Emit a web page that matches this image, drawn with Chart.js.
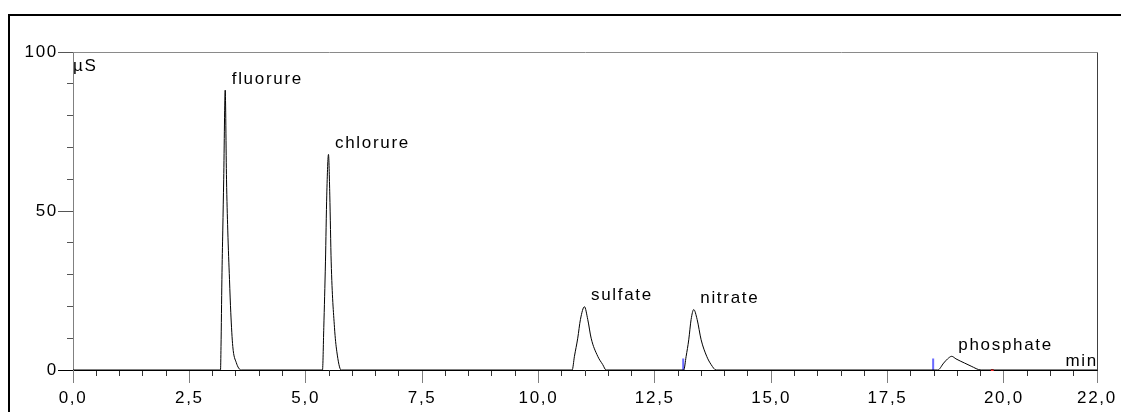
<!DOCTYPE html>
<html lang="fr">
<head>
<meta charset="utf-8">
<title>Chromatogramme ionique</title>
<script src="https://cdn.jsdelivr.net/npm/chart.js@4/dist/chart.umd.min.js"></script>
<style>
  html, body { margin: 0; padding: 0; background: #fff; }
  #wrap { position: relative; width: 1121px; height: 412px; }
</style>
</head>
<body>
<div id="wrap"><canvas id="chroma" width="1121" height="412"></canvas></div>
<script>
// Retention times (min) and conductivity (µS) along each peak
const fluorureT  = [3.169, 3.180, 3.199, 3.218, 3.238, 3.270, 3.298, 3.325, 3.362, 3.390, 3.433, 3.506, 3.613];
const fluorureV  = [0, 7.4, 28.5, 44, 60, 88, 60, 44, 28.5, 18, 7.4, 2.4, 0];
const chlorureT  = [5.360, 5.388, 5.424, 5.452, 5.489, 5.517, 5.547, 5.618, 5.667, 5.761];
const chlorureV  = [0, 13.3, 34, 55, 67.8, 55, 34, 13.3, 5.9, 0];
const sulfateT   = [10.724, 10.773, 10.844, 10.902, 10.988, 11.059, 11.132, 11.274, 11.381, 11.454];
const sulfateV   = [0, 4.3, 10, 15.9, 19.9, 15.9, 10, 4.3, 1.7, 0];
const nitrateT   = [13.121, 13.173, 13.229, 13.280, 13.336, 13.409, 13.495, 13.615, 13.710, 13.817];
const nitrateV   = [0, 4.3, 9.5, 15.9, 19.0, 15.9, 9.5, 4.3, 1.7, 0];
const phosphateT = [18.578, 18.707, 18.79, 18.879, 18.97, 19.152, 19.296, 19.510];
const phosphateV = [0, 2.2, 3.5, 4.3, 3.5, 2.2, 1.2, 0];

const peakNames = ['fluorure', 'chlorure', 'sulfate', 'nitrate', 'phosphate'];

// Integration markers (min) and their height (µS)
const markerTimes = [13.11, 18.48];
const markerHeight = 3.6;
const flagTime = [19.72, 19.78];

// Axis ranges and steps
const timeMin = 0, timeMax = 22, timeMinorStep = 0.5, timeMajorStep = 2.5;
const signalMin = 0, signalMax = 100, signalMinorStep = 10, signalMajorStep = 50;
const runStart = 0, runEnd = 22;

const peaksT = [fluorureT, chlorureT, sulfateT, nitrateT, phosphateT];
const peaksV = [fluorureV, chlorureV, sulfateV, nitrateV, phosphateV];

// Whole trace: flat baseline joined to each peak
const trace = [{ x: runStart, y: 0 }];
peaksT.forEach((ts, i) => ts.forEach((t, j) => trace.push({ x: t, y: peaksV[i][j] })));
trace.push({ x: runEnd, y: 0 });

const markers = [];
markerTimes.forEach(t => {
  markers.push({ x: t, y: 0 }, { x: t, y: markerHeight }, { x: t + 0.01, y: null });
});

const FONT = "'Liberation Sans', Arial, sans-serif";
const FONT_SIZE = 17;
const SPACING = '1.7px';
const isMult = (v, step) => Math.abs(v / step - Math.round(v / step)) < 1e-6;
// Major time ticks: every 2.5 min plus the end of the axis
const isMajorTime = v => isMult(v, timeMajorStep) || Math.abs(v - timeMax) < 1e-6;

// Frame, unit labels and peak names
const decor = {
  id: 'decor',
  beforeDraw(chart) {
    const ctx = chart.ctx;
    ctx.letterSpacing = SPACING;
    ctx.save();
    ctx.strokeStyle = '#000';
    ctx.lineWidth = 2;
    ctx.beginPath();
    ctx.moveTo(9, 412);
    ctx.lineTo(9, 15);
    ctx.lineTo(1121, 15);
    ctx.stroke();
    ctx.restore();
  },
  afterDraw(chart) {
    const ctx = chart.ctx;
    const a = chart.chartArea;
    const xs = chart.scales.x, ys = chart.scales.y;
    ctx.save();
    ctx.lineWidth = 1;
    ctx.strokeStyle = '#8a8a8a';
    ctx.beginPath();
    ctx.moveTo(Math.round(a.left) + 0.5, Math.round(a.top) + 0.5);
    ctx.lineTo(Math.round(a.right) + 0.5, Math.round(a.top) + 0.5);
    ctx.stroke();
    ctx.strokeStyle = '#404040';
    ctx.beginPath();
    ctx.moveTo(Math.round(a.right) + 0.5, Math.round(a.top) + 0.5);
    ctx.lineTo(Math.round(a.right) + 0.5, Math.round(a.bottom) + 0.5);
    ctx.stroke();

    ctx.letterSpacing = SPACING;
    ctx.fillStyle = '#000';
    ctx.font = FONT_SIZE + 'px ' + FONT;
    ctx.textBaseline = 'alphabetic';
    ctx.textAlign = 'left';
    ctx.fillText('µS', a.left, a.top + 19);
    ctx.textAlign = 'right';
    ctx.fillText('min', a.right + 1, a.bottom - 4);

    ctx.textAlign = 'left';
    peaksT.forEach((ts, i) => {
      const vs = peaksV[i];
      let k = 0;
      vs.forEach((v, j) => { if (v > vs[k]) k = j; });
      const px = xs.getPixelForValue(ts[k]);
      const py = ys.getPixelForValue(vs[k]);
      ctx.fillText(peakNames[i], px + 6.5, py - 6.5);
    });
    ctx.restore();
  }
};

new Chart(document.getElementById('chroma'), {
  type: 'line',
  data: {
    datasets: [
      {
        data: trace,
        borderColor: '#000',
        borderWidth: 1,
        pointRadius: 0,
        cubicInterpolationMode: 'monotone',
        fill: false
      },
      {
        data: markers,
        borderColor: '#6a6aff',
        borderWidth: 2,
        pointRadius: 0,
        spanGaps: false,
        fill: false
      },
      {
        data: flagTime.map(t => ({ x: t, y: 0 })),
        borderColor: '#ff3030',
        borderWidth: 2,
        pointRadius: 0,
        clip: false,
        fill: false
      }
    ]
  },
  options: {
    responsive: false,
    animation: false,
    events: [],
    layout: { padding: { left: 10, top: 52, right: 24, bottom: 0 } },
    plugins: { legend: { display: false }, tooltip: { enabled: false } },
    scales: {
      x: {
        type: 'linear',
        position: 'bottom',
        min: timeMin,
        max: timeMax,
        afterFit(s) { s.height = 42; },
        border: { display: true, color: '#000', width: 1 },
        grid: {
          display: true,
          drawOnChartArea: false,
          drawTicks: true,
          tickLength: 13,
          tickWidth: 1,
          tickColor: c => isMajorTime(c.tick.value) ? '#7f7f7f' : '#333',
          tickBorderDash: c => isMajorTime(c.tick.value) ? [] : [5, 100]
        },
        ticks: {
          stepSize: timeMinorStep,
          autoSkip: false,
          maxRotation: 0,
          minRotation: 0,
          padding: 5,
          color: '#000',
          font: { family: FONT, size: FONT_SIZE },
          callback: v => isMajorTime(v) ? v.toFixed(1).replace('.', ',') : ''
        }
      },
      y: {
        type: 'linear',
        position: 'left',
        min: signalMin,
        max: signalMax,
        afterFit(s) { s.width = 63; },
        border: { display: true, color: '#808080', width: 1 },
        grid: {
          display: true,
          drawOnChartArea: false,
          drawTicks: true,
          tickLength: 15,
          tickWidth: 1,
          tickColor: c => c.tick.value === 0 ? '#000' : '#555',
          tickBorderDash: c => isMult(c.tick.value, signalMajorStep) ? [] : [0, 9, 6, 100]
        },
        ticks: {
          stepSize: signalMinorStep,
          autoSkip: false,
          padding: 0,
          color: '#000',
          font: { family: FONT, size: FONT_SIZE },
          callback: v => isMult(v, signalMajorStep) ? String(v) : ''
        }
      }
    }
  },
  plugins: [decor]
});
</script>
</body>
</html>
